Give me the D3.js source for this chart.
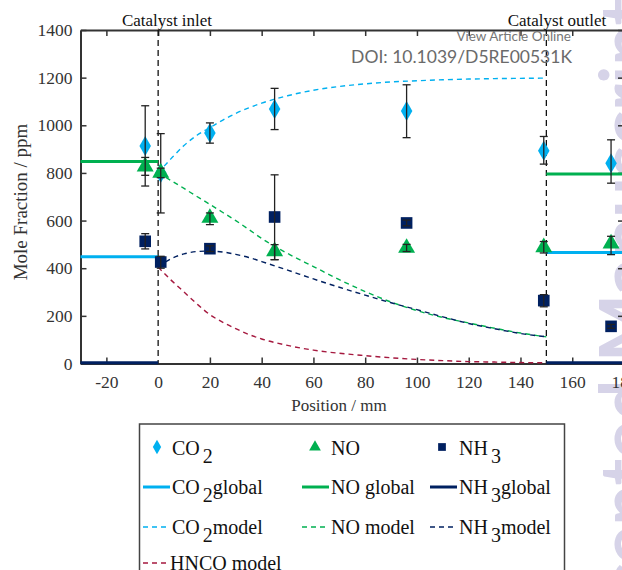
<!DOCTYPE html>
<meta charset="utf-8">
<html>
<script src="https://d3js.org/d3.v7.min.js"></script>
<style>
  body { margin: 0; background: #fff; }
  svg text { font-family: 'Liberation Serif', 'Times New Roman', serif; }
  svg text.sans { font-family: Lato, 'Open Sans', sans-serif; }
</style>
<div id="chart"></div>
<script>

// measured points (position in mm)
var measPos = [-5, 1, 20, 45, 96, 149, 175];
var co2Meas = [913, 800, 968, 1068, 1060, 893, 841];
var co2Lo   = [745, 632, 925, 982, 948, 837, 757];
var co2Hi   = [1082, 965, 1010, 1155, 1170, 953, 939];
var noMeas  = [827, 800, 611, 471, 485, 488, 503];
var noLo    = [790, 780, 583, 436, 470, 464, 457];
var noHi    = [865, 820, 632, 499, 500, 512, 534];
var nh3Meas = [513, 426, 482, 615, 590, 264, 156];
var nh3Lo   = [481, 400, 470, 436, 578, 238, 148];
var nh3Hi   = [545, 450, 494, 792, 602, 289, 164];

// global (inlet / outlet) levels
var globalPos = [[-30, 0], [150, 180]];
var co2Global = [448, 466];
var noGlobal  = [848, 796];
var nh3Global = [3, 3];

// model curves inside the catalyst
var modelPos   = [0, 5, 10, 15, 20, 25, 30, 35, 40, 50, 60, 70, 80, 90, 100, 110, 120, 130, 140, 150];
var co2Model   = [800, 860, 915, 958, 990, 1022, 1050, 1073, 1093, 1124, 1147, 1163, 1174, 1182, 1187, 1191, 1194, 1196, 1197, 1198];
var noModel    = [800, 768, 735, 701, 668, 634, 600, 563, 525, 462, 407, 352, 302, 258, 222, 193, 170, 148, 128, 112];
var nh3Model   = [405, 440, 460, 470, 472, 468, 458, 445, 428, 392, 355, 320, 287, 255, 226, 196, 168, 146, 126, 112];
var hncoModel  = [405, 350, 300, 250, 205, 173, 146, 122, 103, 76, 56, 43, 33, 24, 17, 12, 8, 6, 4, 3];

var xTicks = [-20, 0, 20, 40, 60, 80, 100, 120, 140, 160, 180];
var yTicks = [0, 200, 400, 600, 800, 1000, 1200, 1400];

var cCO2 = "#00b0f0", cNO = "#00b050", cNH3 = "#002060", cHNCO = "#a5193f";

var width = 622, height = 570;
var svg = d3.select("#chart").append("svg")
    .attr("width", width)
    .attr("height", height);

// faint side watermark
svg.append("text")
    .attr("class", "sans")
    .attr("transform", "translate(652,340) rotate(-90)")
    .attr("text-anchor", "middle")
    .attr("font-weight", "bold")
    .attr("font-size", 72)
    .attr("fill", "#d6d3e8")
    .text("Accepted Manuscript");

var x = d3.scaleLinear().domain([-30, 180]).range([80.5, 624]);
var y = d3.scaleLinear().domain([0, 1400]).range([363.5, 30]);
var plain = function(d) { return String(d); };

// axes with inward ticks
var gx = svg.append("g").attr("transform", "translate(0," + y(0) + ")")
    .call(d3.axisBottom(x).tickValues(xTicks).tickFormat(plain).tickSizeInner(-6).tickSizeOuter(0).tickPadding(12));
var gxTop = svg.append("g").attr("transform", "translate(0," + y(1400) + ")")
    .call(d3.axisTop(x).tickValues(xTicks).tickSizeInner(-6).tickSizeOuter(0).tickFormat(""));
var gy = svg.append("g").attr("transform", "translate(" + x(-30) + ",0)")
    .call(d3.axisLeft(y).tickValues(yTicks).tickFormat(plain).tickSizeInner(-6).tickSizeOuter(0).tickPadding(8));
var gyR = svg.append("g").attr("transform", "translate(" + x(180) + ",0)")
    .call(d3.axisRight(y).tickValues(yTicks).tickSizeInner(-6).tickSizeOuter(0).tickFormat(""));

[gx, gxTop, gy, gyR].forEach(function(g) {
  g.attr("font-family", null);
  g.selectAll("path.domain").attr("stroke", "#333").attr("stroke-width", 2);
  g.selectAll(".tick line").attr("stroke", "#333").attr("stroke-width", 1.5);
  g.selectAll(".tick text").attr("font-size", 17.5).attr("fill", "#333");
});
gx.selectAll(".tick line").filter(function(d) { return d == 0; }).remove();

// axis titles
svg.append("text")
    .attr("x", 339).attr("y", 411)
    .attr("text-anchor", "middle")
    .attr("font-size", 17).attr("fill", "#333")
    .text("Position / mm");
svg.append("text")
    .attr("transform", "translate(27,202) rotate(-90)")
    .attr("text-anchor", "middle")
    .attr("font-size", 19).attr("fill", "#333")
    .text("Mole Fraction / ppm");

// catalyst boundaries
[0, 150].forEach(function(p) {
  svg.append("line")
      .attr("x1", x(p)).attr("x2", x(p))
      .attr("y1", y(1400)).attr("y2", y(0))
      .attr("stroke", "#111").attr("stroke-width", 1.3)
      .attr("stroke-dasharray", "6,4");
});
svg.append("text").attr("x", 167).attr("y", 26)
    .attr("text-anchor", "middle").attr("font-size", 17).attr("fill", "#111")
    .text("Catalyst inlet");
svg.append("text").attr("x", 557).attr("y", 26)
    .attr("text-anchor", "middle").attr("font-size", 17).attr("fill", "#111")
    .text("Catalyst outlet");

// DOI watermark
svg.append("text").attr("class", "sans").attr("x", 571).attr("y", 41)
    .attr("text-anchor", "end")
    .attr("font-size", 13.5).attr("fill", "#777")
    .text("View Article Online");
svg.append("text").attr("class", "sans").attr("x", 572).attr("y", 63)
    .attr("text-anchor", "end")
    .attr("font-size", 17.5).attr("fill", "#6a6a6a")
    .text("DOI: 10.1039/D5RE00531K");

// model curves
var line = d3.line()
    .x(function(d) { return x(d[0]); })
    .y(function(d) { return y(d[1]); })
    .curve(d3.curveMonotoneX);

[[co2Model, cCO2], [noModel, cNO], [nh3Model, cNH3], [hncoModel, cHNCO]].forEach(function(m) {
  svg.append("path")
      .datum(d3.zip(modelPos, m[0]))
      .attr("d", line)
      .attr("fill", "none")
      .attr("stroke", m[1])
      .attr("stroke-width", 1.4)
      .attr("stroke-dasharray", "5,4");
});

// global levels
[[co2Global, cCO2], [noGlobal, cNO], [nh3Global, cNH3]].forEach(function(g) {
  globalPos.forEach(function(r, i) {
    svg.append("line")
        .attr("x1", x(r[0])).attr("x2", x(r[1]))
        .attr("y1", y(g[0][i])).attr("y2", y(g[0][i]))
        .attr("stroke", g[1]).attr("stroke-width", 3);
  });
});

// markers
var diamond = d3.symbol().type(d3.symbolDiamond).size(115);
var triangle = d3.symbol().type(d3.symbolTriangle).size(125);
var square = d3.symbol().type(d3.symbolSquare).size(135);

function drawSeries(vals, lo, hi, sym, col) {
  svg.append("g").selectAll("path")
      .data(d3.range(measPos.length))
      .enter().append("path")
      .attr("d", sym)
      .attr("transform", function(i) { return "translate(" + x(measPos[i]) + "," + y(vals[i]) + ")"; })
      .attr("fill", col);
  var eb = svg.append("g").attr("stroke", "#222").attr("stroke-width", 1.3);
  measPos.forEach(function(p, i) {
    var cx = x(p);
    eb.append("line").attr("x1", cx).attr("x2", cx).attr("y1", y(lo[i])).attr("y2", y(hi[i]));
    eb.append("line").attr("x1", cx - 4).attr("x2", cx + 4).attr("y1", y(lo[i])).attr("y2", y(lo[i]));
    eb.append("line").attr("x1", cx - 4).attr("x2", cx + 4).attr("y1", y(hi[i])).attr("y2", y(hi[i]));
  });
}
drawSeries(co2Meas, co2Lo, co2Hi, diamond, cCO2);
drawSeries(noMeas, noLo, noHi, triangle, cNO);
drawSeries(nh3Meas, nh3Lo, nh3Hi, square, cNH3);

// legend
var lg = svg.append("g").attr("font-size", 20).attr("fill", "#111");
lg.append("rect")
    .attr("x", 139.5).attr("y", 424).attr("width", 425).attr("height", 170)
    .attr("fill", "#fff").attr("stroke", "#444").attr("stroke-width", 1.5);

function label(tx, ty, parts) {
  var t = lg.append("text").attr("x", tx).attr("y", ty);
  parts.forEach(function(p) {
    if (p.sub) t.append("tspan").attr("dx", 3).attr("dy", 8).text(p.sub);
    else t.append("tspan").attr("dy", p.back ? -8 : 0).text(p.t);
  });
}

var cols = [143, 302, 430];
var textX = [172, 331, 459];

lg.append("path").attr("d", d3.symbol().type(d3.symbolDiamond).size(60)).attr("fill", cCO2)
    .attr("transform", "translate(157,447)");
lg.append("path").attr("d", d3.symbol().type(d3.symbolTriangle).size(60)).attr("fill", cNO)
    .attr("transform", "translate(315,447)");
lg.append("path").attr("d", d3.symbol().type(d3.symbolSquare).size(60)).attr("fill", cNH3)
    .attr("transform", "translate(442,447)");
label(textX[0], 455, [{t: "CO"}, {sub: "2"}]);
label(textX[1], 455, [{t: "NO"}]);
label(textX[2], 455, [{t: "NH"}, {sub: "3"}]);

var rowG = 487, rowM = 527, rowH = 563;
[[cCO2, 0], [cNO, 1], [cNH3, 2]].forEach(function(c) {
  lg.append("line").attr("x1", cols[c[1]]).attr("x2", cols[c[1]] + 27)
      .attr("y1", rowG).attr("y2", rowG).attr("stroke", c[0]).attr("stroke-width", 3);
  lg.append("line").attr("x1", cols[c[1]]).attr("x2", cols[c[1]] + 27)
      .attr("y1", rowM).attr("y2", rowM).attr("stroke", c[0]).attr("stroke-width", 1.4)
      .attr("stroke-dasharray", "5,4");
});
lg.append("line").attr("x1", cols[0]).attr("x2", cols[0] + 27)
    .attr("y1", rowH).attr("y2", rowH).attr("stroke", cHNCO).attr("stroke-width", 1.4)
    .attr("stroke-dasharray", "5,4");

label(textX[0], 494, [{t: "CO"}, {sub: "2"}, {t: "global", back: true}]);
label(textX[1], 494, [{t: "NO global"}]);
label(textX[2], 494, [{t: "NH"}, {sub: "3"}, {t: "global", back: true}]);
label(textX[0], 534, [{t: "CO"}, {sub: "2"}, {t: "model", back: true}]);
label(textX[1], 534, [{t: "NO model"}]);
label(textX[2], 534, [{t: "NH"}, {sub: "3"}, {t: "model", back: true}]);
label(textX[0] - 2, 570, [{t: "HNCO model"}]);

</script>
</html>
